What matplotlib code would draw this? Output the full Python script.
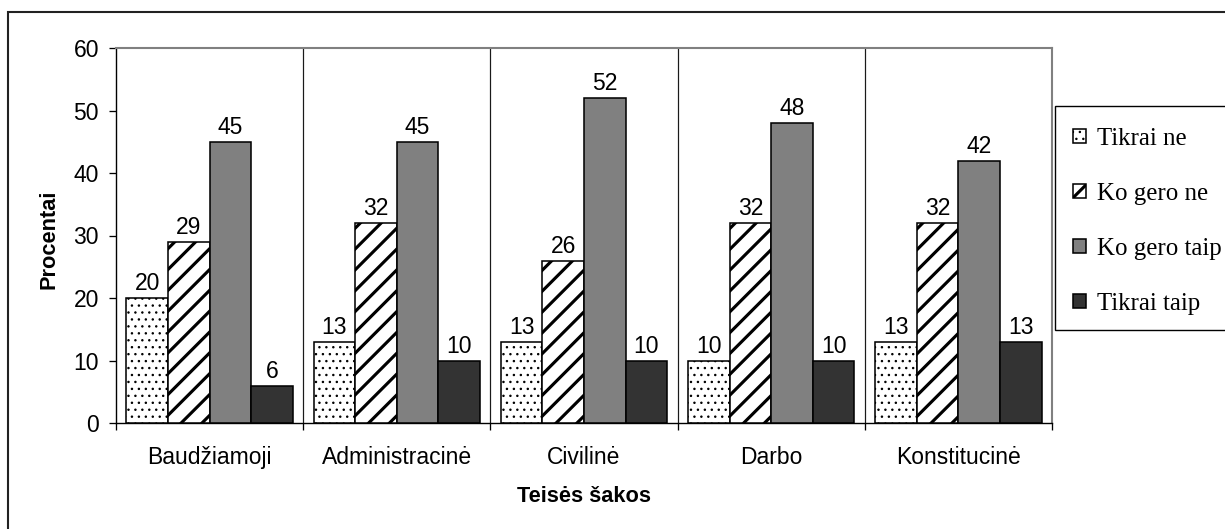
import matplotlib
matplotlib.use("Agg")
import matplotlib.pyplot as plt
import numpy as np
from matplotlib.patches import Rectangle

# data
categories = ["Baudžiamoji", "Administracinė", "Civilinė", "Darbo", "Konstitucinė"]
series_names = ["Tikrai ne", "Ko gero ne", "Ko gero taip", "Tikrai taip"]
tikrai_ne = [20, 13, 13, 10, 13]
ko_gero_ne = [29, 32, 26, 32, 32]
ko_gero_taip = [45, 45, 52, 48, 42]
tikrai_taip = [6, 10, 10, 10, 13]
y_ticks = [0, 10, 20, 30, 40, 50, 60]

series = [tikrai_ne, ko_gero_ne, ko_gero_taip, tikrai_taip]
fills = ["white", "white", "#808080", "#333333"]
hatches = ["...", "//", None, None]
hatch_lws = [0.6, 1.8, 1.0, 1.0]

plt.rcParams["font.family"] = ["Liberation Sans", "DejaVu Sans"]

W, H, DPI = 1225, 529, 125
fig = plt.figure(figsize=(W / DPI, H / DPI), dpi=DPI)
ax = fig.add_axes([116 / W, 1 - 423 / H, 936 / W, 375 / H])

x = np.arange(len(categories))
w = 0.222
for k, vals in enumerate(series):
    with plt.rc_context({"hatch.linewidth": hatch_lws[k]}):
        bars = ax.bar(x + (k - 1.5) * w, vals, w, color=fills[k], edgecolor="black",
                      linewidth=0.9, hatch=hatches[k], label=series_names[k], zorder=3)
    for rect, v in zip(bars, vals):
        ax.annotate(str(v), (rect.get_x() + w / 2, v), xytext=(0, 1.5),
                    textcoords="offset points", ha="center", va="bottom", fontsize=13.2)

# category separators
ax.vlines(x[:-1] + 0.5, 0, 60, color="#1a1a1a", linewidth=0.7, zorder=1)

ax.set_xlim(-0.5, len(categories) - 0.5)
ax.set_ylim(0, 60)
ax.set_yticks(y_ticks)
ax.tick_params(axis="y", direction="out", length=4.3, width=0.75, pad=5.5, labelsize=13.2)
ax.set_xticks(x)
ax.set_xticklabels(categories)
ax.tick_params(axis="x", which="major", length=0, pad=13.5, labelsize=13.2)
ax.set_xticks(np.arange(len(categories) + 1) - 0.5, minor=True)
ax.tick_params(axis="x", which="minor", direction="out", length=4.3, width=0.75)

for side in ["left", "bottom"]:
    ax.spines[side].set_color("black")
    ax.spines[side].set_linewidth(0.8)
for side in ["top", "right"]:
    ax.spines[side].set_color("#808080")
    ax.spines[side].set_linewidth(1.2)

ax.set_ylabel("Procentai", fontsize=12.5, fontweight="bold")
ax.yaxis.label.set_va("center")
ax.yaxis.set_label_coords(-0.0715, 0.49)
ax.set_xlabel("Teisės šakos", fontsize=12.5, fontweight="bold")
ax.xaxis.label.set_va("center")
ax.xaxis.set_label_coords(0.5, -0.197)

# legend without its own frame; the box is drawn below so the rows can sit freely
leg = ax.legend(loc="upper left", bbox_to_anchor=(1073 / W, 1 - 128 / H),
                bbox_transform=fig.transFigure, borderaxespad=0, frameon=False,
                handlelength=0.52, handleheight=0.52, handletextpad=0.45,
                borderpad=0, labelspacing=1.33,
                prop={"family": ["Liberation Serif", "DejaVu Serif"], "size": 14.3})
for h, lw in zip(leg.legend_handles, hatch_lws):
    h.set_linewidth(0.9)
    if hasattr(h, "set_hatch_linewidth"):
        h.set_hatch_linewidth(lw)

fig.add_artist(Rectangle((1055 / W, 1 - 330 / H), 0.2, 224 / H, transform=fig.transFigure,
                         facecolor="white", edgecolor="black", linewidth=0.8, zorder=0))

# outer chart border (runs off the right and bottom edges)
fig.add_artist(Rectangle((8 / W, -0.1), 1.2, 1.1 - 12 / H, transform=fig.transFigure,
                         fill=False, edgecolor="#222222", linewidth=1.2))

fig.savefig("out.png", dpi=DPI)
